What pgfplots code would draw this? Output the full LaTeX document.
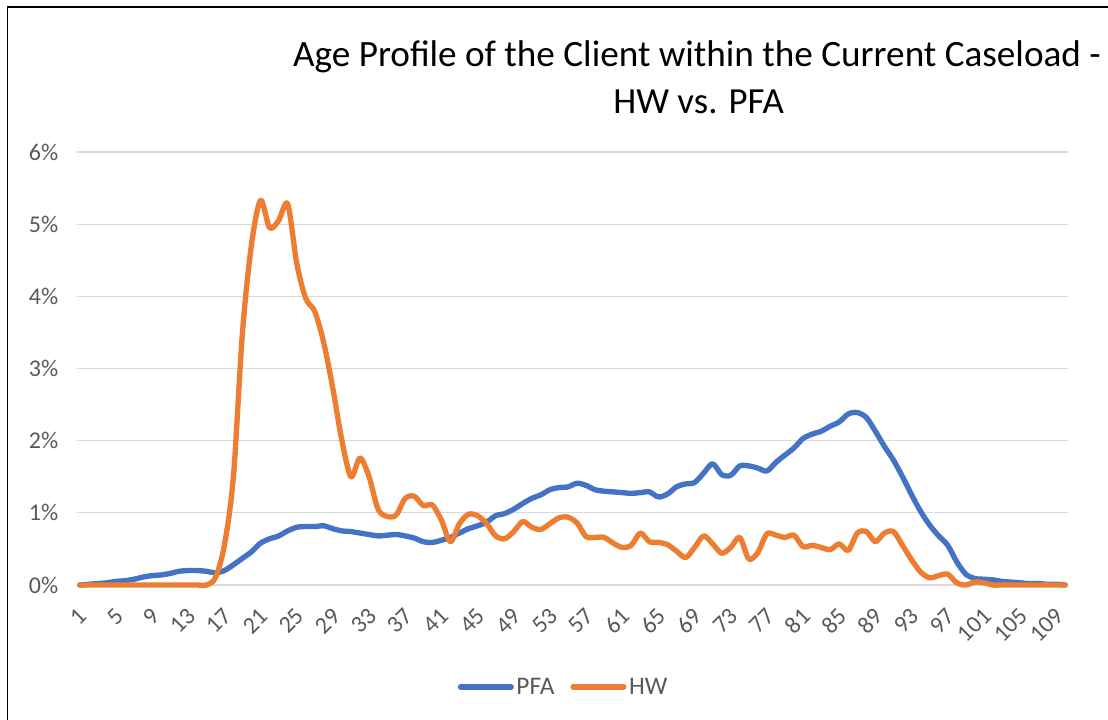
\documentclass[border=0pt]{standalone}
\usepackage{fontspec}
\setmainfont{Carlito}
\usepackage{pgfplots}
\usepackage{pgfplotstable}
\pgfplotsset{compat=1.18}
\definecolor{pfablue}{HTML}{4472C4}
\definecolor{hworange}{HTML}{ED7D31}
\definecolor{gridgray}{HTML}{D9D9D9}
\definecolor{tickgray}{HTML}{595959}
\pgfplotstableread{
age pfa hw
1 0 0
2 0.01 0
3 0.02 0
4 0.03 0
5 0.05 0
6 0.06 0
7 0.08 0
8 0.11 0
9 0.13 0
10 0.14 0
11 0.16 0
12 0.19 0
13 0.2 0
14 0.2 0
15 0.19 0
16 0.17 0.1
17 0.2 0.55
18 0.28 1.5
19 0.37 3.5
20 0.46 4.72
21 0.58 5.33
22 0.64 4.95
23 0.68 5.05
24 0.75 5.28
25 0.8 4.46
26 0.81 3.97
27 0.81 3.79
28 0.82 3.35
29 0.78 2.72
30 0.75 2.0
31 0.74 1.5
32 0.72 1.76
33 0.70 1.5
34 0.68 1.05
35 0.69 0.95
36 0.70 0.97
37 0.68 1.2
38 0.65 1.23
39 0.6 1.1
40 0.59 1.11
41 0.62 0.9
42 0.66 0.6
43 0.72 0.85
44 0.78 0.98
45 0.82 0.96
46 0.87 0.85
47 0.96 0.68
48 0.99 0.64
49 1.05 0.74
50 1.13 0.88
51 1.2 0.8
52 1.25 0.77
53 1.32 0.85
54 1.35 0.93
55 1.36 0.94
56 1.41 0.86
57 1.38 0.67
58 1.32 0.66
59 1.30 0.66
60 1.29 0.58
61 1.28 0.52
62 1.27 0.55
63 1.28 0.72
64 1.29 0.6
65 1.22 0.59
66 1.26 0.56
67 1.36 0.47
68 1.4 0.38
69 1.42 0.52
70 1.55 0.68
71 1.68 0.57
72 1.53 0.44
73 1.52 0.52
74 1.65 0.66
75 1.65 0.36
76 1.62 0.45
77 1.58 0.71
78 1.70 0.69
79 1.80 0.66
80 1.90 0.69
81 2.03 0.53
82 2.09 0.55
83 2.13 0.52
84 2.20 0.49
85 2.26 0.57
86 2.37 0.48
87 2.39 0.72
88 2.32 0.74
89 2.13 0.6
90 1.92 0.72
91 1.73 0.74
92 1.50 0.55
93 1.25 0.35
94 1.02 0.18
95 0.83 0.1
96 0.68 0.13
97 0.55 0.15
98 0.32 0.03
99 0.15 0
100 0.09 0.04
101 0.08 0.03
102 0.07 0
103 0.05 0
104 0.04 0
105 0.03 0
106 0.02 0
107 0.02 0
108 0.01 0
109 0.01 0
110 0 0
}\agedata
\begin{document}
\begin{tikzpicture}
\path[use as bounding box] (0,0) rectangle (831pt,-540pt);
\draw[black, line width=1pt] (5.6pt,-545pt) -- (5.6pt,-5.3pt) -- (840pt,-5.3pt);
\node[font=\fontsize{27.9}{33}\selectfont, anchor=base, inner sep=0pt] at (522.75pt,-50pt) {Age Profile of the Client within the Current Caseload -};
\node[font=\fontsize{27.6}{33}\selectfont, anchor=base, inner sep=0pt] at (524pt,-85pt) {HW vs. PFA};
\begin{axis}[
  at={(57.75pt,-438.75pt)}, anchor=south west,
  scale only axis, width=743.25pt, height=324.75pt,
  xmin=0.7, xmax=110.3, ymin=0, ymax=6,
  clip=false,
  axis line style={draw=none},
  major tick length=0pt,
  ymajorgrids, grid style={color=gridgray, line width=0.9pt},
  ytick={0,1,2,3,4,5,6},
  yticklabels={0\%,1\%,2\%,3\%,4\%,5\%,6\%},
  xtick={1,5,9,13,17,21,25,29,33,37,41,45,49,53,57,61,65,69,73,77,81,85,89,93,97,101,105,109},
  xticklabels={1,5,9,13,17,21,25,29,33,37,41,45,49,53,57,61,65,69,73,77,81,85,89,93,97,101,105,109},
  yticklabel style={font=\fontsize{18}{21}\selectfont, text=tickgray, xshift=-10.5pt},
  xticklabel style={font=\fontsize{18}{21}\selectfont, text=tickgray, xshift=5pt, yshift=-18pt, rotate=45, anchor=east},
  legend style={at={(0.4914,-0.2356)}, anchor=center, draw=none, fill=none, legend columns=2,
    font=\fontsize{19}{22}\selectfont, text=tickgray,
    /tikz/every even column/.append style={column sep=10pt}},
  legend image code/.code={\draw[#1, line cap=round] (0pt,0pt) -- (38pt,0pt);},
]
\addplot[pfablue, line width=4pt, line cap=round, line join=round, smooth, tension=0.5] table[x=age, y=pfa] {\agedata};
\addlegendentry{PFA}
\addplot[hworange, line width=4pt, line cap=round, line join=round, smooth, tension=0.5] table[x=age, y=hw] {\agedata};
\addlegendentry{HW}
\end{axis}
\end{tikzpicture}
\end{document}
